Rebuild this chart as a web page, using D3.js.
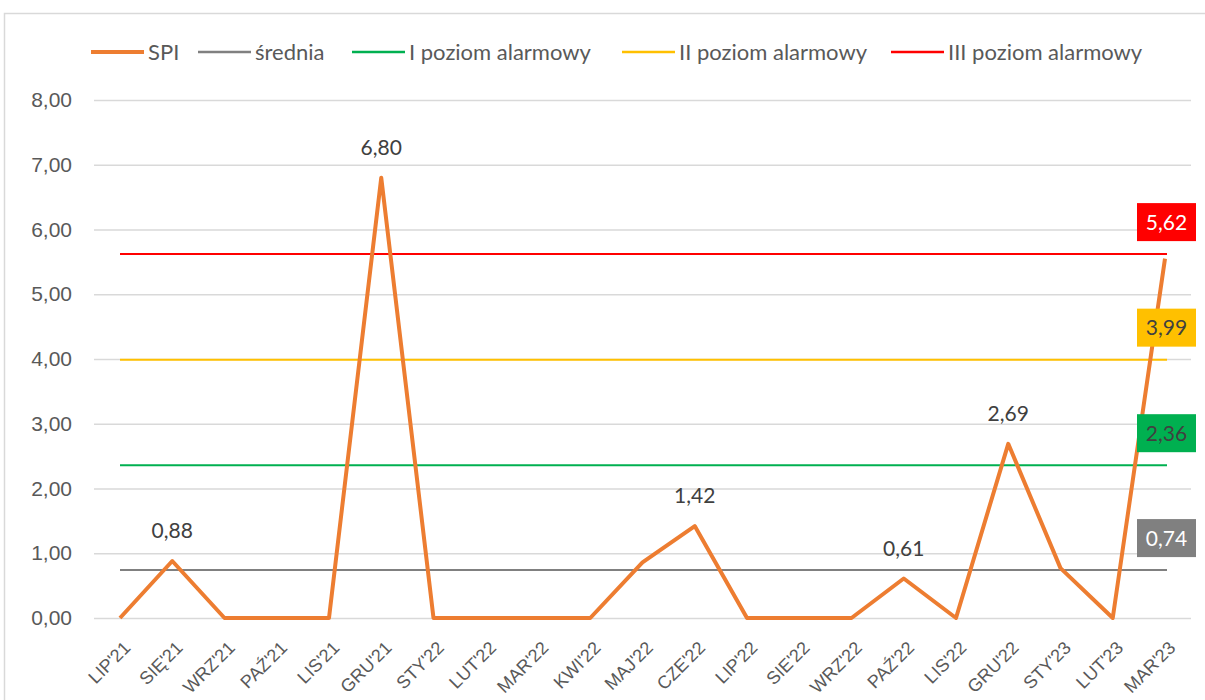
<!DOCTYPE html>
<html lang="pl">
<head>
<meta charset="UTF-8">
<title>SPI</title>
<style>
  body { margin: 0; background: #ffffff; }
  svg { display: block; font-family: Lato, "Open Sans", sans-serif; }
</style>
</head>
<body>
<svg width="1205" height="700"></svg>
<script src="https://d3js.org/d3.v7.min.js"></script>
<script>
// data
const months = ["LIP'21", "SIĘ'21", "WRZ'21", "PAŹ'21", "LIS'21", "GRU'21", "STY'22", "LUT'22",
  "MAR'22", "KWI'22", "MAJ'22", "CZE'22", "LIP'22", "SIE'22", "WRZ'22", "PAŹ'22", "LIS'22",
  "GRU'22", "STY'23", "LUT'23", "MAR'23"];
const spi = [0, 0.88, 0, 0, 0, 6.80, 0, 0, 0, 0, 0.86, 1.42, 0, 0, 0, 0.61, 0, 2.69, 0.77, 0, 5.55];
const labelled = ["SIĘ'21", "GRU'21", "CZE'22", "PAŹ'22", "GRU'22"];
const levelNames = ["średnia", "I poziom alarmowy", "II poziom alarmowy", "III poziom alarmowy"];
const levelValues = [0.74, 2.36, 3.99, 5.62];
const yTicks = [0, 1, 2, 3, 4, 5, 6, 7, 8];

const levelColors = ["#808080", "#00b050", "#ffc000", "#ff0000"];
const levelText = ["#ffffff", "#404040", "#404040", "#ffffff"];
const fmt = v => d3.format(".2f")(v).replace(".", ",");

const svg = d3.select("svg");

// outer frame
svg.append("rect").attr("x", 4.5).attr("y", 13.5).attr("width", 1220).attr("height", 700)
  .attr("fill", "none").attr("stroke", "#d9d9d9").attr("stroke-width", 1.5);

const x = d3.scalePoint().domain(months).range([120, 1165]);
const y = d3.scaleLinear().domain([0, 8]).range([618, 100]);

// gridlines + y labels
const yAxis = svg.append("g").attr("transform", "translate(94,0)")
  .call(d3.axisLeft(y).tickValues(yTicks).tickFormat(fmt).tickSize(-1097).tickPadding(22));
yAxis.select(".domain").remove();
yAxis.selectAll(".tick line").attr("stroke", "#d9d9d9").attr("stroke-width", 1.3);
yAxis.selectAll(".tick text").attr("fill", "#595959").style("font-size", "21px");

// x labels (rotated)
const xAxis = svg.append("g").attr("transform", "translate(0,618)")
  .call(d3.axisBottom(x).tickSize(0).tickPadding(0));
xAxis.select(".domain").remove();
xAxis.selectAll(".tick text")
  .attr("fill", "#595959").style("font-size", "18px")
  .attr("text-anchor", "end")
  .attr("dy", 0).attr("y", 0)
  .attr("transform", "translate(11,31) rotate(-45)");

// level lines
levelValues.forEach((v, i) => {
  svg.append("line")
    .attr("x1", x(months[0])).attr("x2", x(months[months.length - 1]) + 2)
    .attr("y1", y(v)).attr("y2", y(v))
    .attr("stroke", levelColors[i]).attr("stroke-width", 2);
});

// SPI line
svg.append("path").datum(spi)
  .attr("fill", "none").attr("stroke", "#ed7d31").attr("stroke-width", 4)
  .attr("stroke-linejoin", "round")
  .attr("d", d3.line().x((d, i) => x(months[i])).y(d => y(d)));

// data labels on SPI peaks
months.forEach((m, i) => {
  if (!labelled.includes(m)) return;
  svg.append("text")
    .attr("x", x(m)).attr("y", y(spi[i]) - 23)
    .attr("text-anchor", "middle").attr("fill", "#404040").style("font-size", "21px")
    .text(fmt(spi[i]));
});

// level value boxes at the right end
levelValues.forEach((v, i) => {
  const cx = 1166.5, cy = y(v) - 32;
  svg.append("rect").attr("x", cx - 29.5).attr("y", cy - 19).attr("width", 59).attr("height", 38)
    .attr("fill", levelColors[i]);
  svg.append("text").attr("x", cx).attr("y", cy + 7.5)
    .attr("text-anchor", "middle").attr("fill", levelText[i]).style("font-size", "21px")
    .text(fmt(v));
});

// legend
const legendItems = [{ name: "SPI", color: "#ed7d31", w: 4 }]
  .concat(levelNames.map((n, i) => ({ name: n, color: levelColors[i], w: 2.5 })));
const legendX = [91, 198, 352, 622, 891];
legendItems.forEach((d, i) => {
  const g = svg.append("g").attr("transform", `translate(${legendX[i]},52)`);
  g.append("line").attr("x1", 0).attr("x2", 53).attr("stroke", d.color).attr("stroke-width", d.w);
  g.append("text").attr("x", 57).attr("y", 7.5).attr("fill", "#595959").style("font-size", "22px")
    .text(d.name);
});
</script>
</body>
</html>
